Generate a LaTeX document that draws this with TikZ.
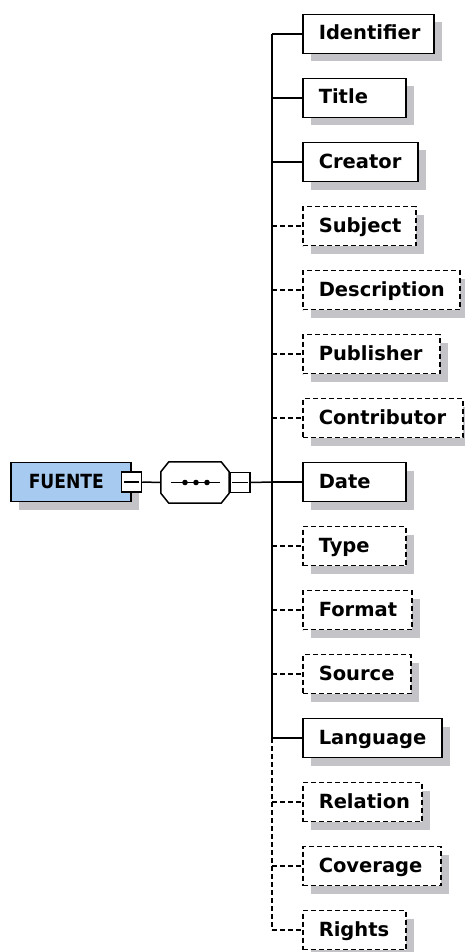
\documentclass[tikz,border=0pt]{standalone}
\usepackage{fontspec}
\setmainfont{DejaVu Sans}
\usetikzlibrary{shadows}
\definecolor{shgray}{RGB}{196,196,200}
\definecolor{rootblue}{RGB}{166,202,240}
\tikzset{
  lw/.style={line width=1.5pt},
  dashed/.style={dash pattern=on 5pt off 3pt},
  shad/.style={drop shadow={shadow xshift=8pt,shadow yshift=-8pt,fill=shgray,opacity=1}},
  lbl/.style={font=\bfseries\fontsize{19.5}{24}\selectfont},
  elem/.style={draw, lw, fill=white, shad, lbl, minimum height=39pt, inner xsep=16pt, inner ysep=0pt,
    anchor=west, text height=15pt, text depth=3pt},
  minusbox/.style={draw, lw, fill=white, minimum size=20pt, inner sep=0pt},
}
\begin{document}
\begin{tikzpicture}[x=1pt,y=-1pt]
\useasboundingbox[fill=white] (0,0) rectangle (465,952);
% root element
\node[draw, lw, fill=rootblue, shad, lbl, minimum width=120pt, minimum height=39pt, anchor=west,
      inner xsep=18pt, inner ysep=0pt, text height=15pt, text depth=3pt] (root) at (10,482)
      {\makebox[84pt][l]{\scalebox{0.88}[1]{FUENTE}}};
\node[minusbox] (rm) at (root.east) {};
\draw[lw] ([xshift=3pt]rm.west) -- ([xshift=-3pt]rm.east);
% sequence compositor
\node[minimum width=68pt, minimum height=41pt, inner sep=0pt] (seq) at (195,482.5) {};
\fill[shgray, xshift=8pt, yshift=-8pt]
  ([xshift=8pt]seq.north west) -- ([xshift=-8pt]seq.north east) -- ([yshift=-10pt]seq.north east)
  -- ([yshift=10pt]seq.south east) -- ([xshift=-8pt]seq.south east) -- ([xshift=8pt]seq.south west)
  -- ([yshift=10pt]seq.south west) -- ([yshift=-10pt]seq.north west) -- cycle;
\draw[lw, fill=white]
  ([xshift=8pt]seq.north west) -- ([xshift=-8pt]seq.north east) -- ([yshift=-10pt]seq.north east)
  -- ([yshift=10pt]seq.south east) -- ([xshift=-8pt]seq.south east) -- ([xshift=8pt]seq.south west)
  -- ([yshift=10pt]seq.south west) -- ([yshift=-10pt]seq.north west) -- cycle;
\draw[lw] ([xshift=-24pt]seq.center) -- ([xshift=25pt]seq.center);
\foreach \dx in {-10,1,12} \fill ([xshift=\dx pt]seq.center) circle (2.8pt);
\node[minusbox, anchor=west] (sm) at (seq.east) {};
\draw[lw] ([xshift=3pt]sm.west) -- ([xshift=-3pt]sm.east);
\draw[lw] (rm.east) -- (seq.west);
% children
\foreach \n/\w/\s [count=\i from 0] in {
  Identifier/131/solid, Title/103/solid, Creator/115/solid, Subject/113/dashed,
  Description/157/dashed, Publisher/137/dashed, Contributor/160/dashed, Date/103/solid,
  Type/103/dashed, Format/109/dashed, Source/108/dashed, Language/139/solid,
  Relation/119/dashed, Coverage/138/dashed, Rights/103/dashed} {
  \pgfmathsetmacro\yy{34+64*\i}
  \pgfmathsetmacro\tw{\w-32}
  \coordinate (t\i) at (272,\yy);
  \node[elem, \s] (e\i) at (302,\yy) {\makebox[\tw pt][l]{\n}};
  \draw[lw, \s] (t\i) -- (e\i.west);
}
\draw[lw] (t0) -- (t11);
\draw[lw, dashed] (t11) -- (t14);
\draw[lw] (sm.east) -- (t7);
\end{tikzpicture}
\end{document}
